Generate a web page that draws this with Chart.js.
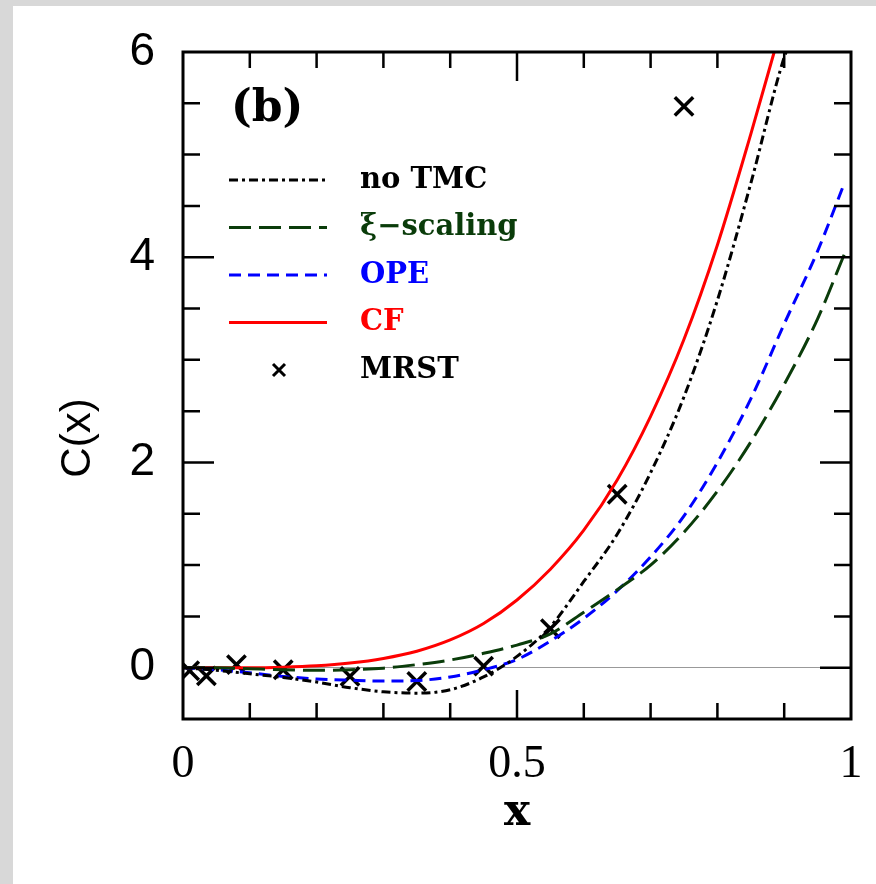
<!DOCTYPE html>
<html>
<head>
<meta charset="utf-8">
<script src="https://cdn.jsdelivr.net/npm/chart.js@4.4.0/dist/chart.umd.min.js"></script>
<style>
  html, body { margin: 0; padding: 0; background: #d8d8d8; overflow: hidden; }
  #panel { position: absolute; left: 13px; top: 6px; right: 0; bottom: 0; background: #fff; }
  canvas { position: absolute; left: 0; top: 0; }
</style>
</head>
<body>
<div id="panel"></div>
<canvas id="chart" width="876" height="884"></canvas>
<script>
// ---- data ----
const panelLabel = '(b)';
const yTitle = 'C(x)';
const xBase = [0, 0.05, 0.1, 0.15, 0.2, 0.25, 0.3, 0.35, 0.4, 0.45, 0.5, 0.55, 0.6, 0.65, 0.7, 0.75, 0.8, 0.85];

const noTmcX = xBase.concat([0.9, 0.903]);
const noTmcY = [0, -0.025, -0.06, -0.095, -0.14, -0.195, -0.235, -0.248, -0.215, -0.09, 0.11, 0.40, 0.84, 1.30, 1.90, 2.64, 3.58, 4.72, 5.95, 6.0];

const xiX = xBase.concat([0.9, 0.95, 0.99]);
const xiY = [0, 0, -0.01, -0.02, -0.025, -0.02, -0.005, 0.03, 0.075, 0.14, 0.22, 0.33, 0.54, 0.76, 1.0, 1.32, 1.72, 2.2, 2.76, 3.4, 4.03];

const opeX = xBase.concat([0.9, 0.95, 0.99]);
const opeY = [0, -0.02, -0.05, -0.085, -0.11, -0.122, -0.13, -0.125, -0.09, -0.02, 0.08, 0.26, 0.48, 0.75, 1.08, 1.48, 2.0, 2.62, 3.35, 4.06, 4.72];

const cfX = xBase.concat([0.885]);
const cfY = [0, 0, 0, 0.005, 0.018, 0.045, 0.09, 0.16, 0.27, 0.43, 0.66, 0.96, 1.34, 1.83, 2.45, 3.2, 4.12, 5.2, 6.0];

const mrstX = [0.01, 0.035, 0.08, 0.15, 0.25, 0.35, 0.45, 0.55, 0.65, 0.75];
const mrstY = [-0.03, -0.08, 0.03, -0.02, -0.085, -0.135, 0.015, 0.38, 1.69, 5.47];

const xTicks = [0, 0.5, 1];
const yTicks = [0, 2, 4, 6];
const xMinorTicks = [0.1, 0.2, 0.3, 0.4, 0.5, 0.6, 0.7, 0.8, 0.9];
const yMinorTicks = [0, 0.5, 1, 1.5, 2, 2.5, 3, 3.5, 4, 4.5, 5, 5.5];

const pts = (xs, ys) => xs.map((x, i) => ({ x: x, y: ys[i] }));

// frame, inward ticks, y title, legend and panel label
const decorPlugin = {
  id: 'decor',
  afterDraw(chart) {
    const ctx = chart.ctx;
    const { left, right, top, bottom } = chart.chartArea;
    const xs = chart.scales.x, ys = chart.scales.y;
    ctx.save();
    ctx.strokeStyle = '#000';
    ctx.lineCap = 'butt';

    ctx.lineWidth = 2.5;
    yMinorTicks.forEach(v => {
      const py = ys.getPixelForValue(v);
      const len = yTicks.includes(v) ? 31 : 17;
      ctx.beginPath();
      ctx.moveTo(left, py); ctx.lineTo(left + len, py);
      ctx.moveTo(right, py); ctx.lineTo(right - len, py);
      ctx.stroke();
    });
    xMinorTicks.forEach(v => {
      const px = xs.getPixelForValue(v);
      const len = xTicks.includes(v) ? 29 : 16;
      ctx.beginPath();
      ctx.moveTo(px, bottom); ctx.lineTo(px, bottom - len);
      ctx.moveTo(px, top); ctx.lineTo(px, top + len);
      ctx.stroke();
    });

    ctx.lineWidth = 3;
    ctx.strokeRect(left, top, right - left, bottom - top);

    // y axis title (sits a bit below the axis middle in the original)
    ctx.fillStyle = '#000';
    ctx.save();
    ctx.translate(78, 438);
    ctx.rotate(-Math.PI / 2);
    ctx.textAlign = 'center';
    ctx.textBaseline = 'middle';
    ctx.font = '42px "Liberation Sans"';
    ctx.fillText(yTitle, 0, 0);
    ctx.restore();

    // panel label
    ctx.textAlign = 'left';
    ctx.textBaseline = 'middle';
    ctx.font = 'bold 44px "DejaVu Serif"';
    ctx.fillText(panelLabel, 231, 110);

    // legend
    ctx.font = 'bold 29px "DejaVu Serif"';
    chart.data.datasets.forEach((ds, i) => {
      const y = 180 + i * 47.5;
      ctx.strokeStyle = ds.borderColor;
      if (ds.showLine === false) {
        const r = 6;
        ctx.lineWidth = 3;
        ctx.setLineDash([]);
        ctx.beginPath();
        ctx.moveTo(279 - r, y - r); ctx.lineTo(279 + r, y + r);
        ctx.moveTo(279 - r, y + r); ctx.lineTo(279 + r, y - r);
        ctx.stroke();
      } else {
        ctx.lineWidth = ds.borderWidth;
        ctx.setLineDash(ds.borderDash || []);
        ctx.beginPath();
        ctx.moveTo(229, y); ctx.lineTo(327, y);
        ctx.stroke();
      }
      ctx.setLineDash([]);
      ctx.fillStyle = ds.borderColor;
      ctx.fillText(ds.label, 360, y);
    });
    ctx.restore();
  }
};

const ctx = document.getElementById('chart').getContext('2d');
const chart = new Chart(ctx, {
  type: 'scatter',
  data: {
    datasets: [
      { label: 'no TMC', data: pts(noTmcX, noTmcY), showLine: true, borderColor: '#000000',
        borderWidth: 3, borderDash: [9, 4, 3, 4], pointRadius: 0, cubicInterpolationMode: 'monotone' },
      { label: '\u03BE\u2212scaling', data: pts(xiX, xiY), showLine: true, borderColor: '#0a3c0a',
        borderWidth: 3, borderDash: [22, 8], pointRadius: 0, cubicInterpolationMode: 'monotone' },
      { label: 'OPE', data: pts(opeX, opeY), showLine: true, borderColor: '#0000ff',
        borderWidth: 3, borderDash: [12, 7], pointRadius: 0, cubicInterpolationMode: 'monotone' },
      { label: 'CF', data: pts(cfX, cfY), showLine: true, borderColor: '#ff0000',
        borderWidth: 3, pointRadius: 0, cubicInterpolationMode: 'monotone' },
      { label: 'MRST', data: pts(mrstX, mrstY), showLine: false, borderColor: '#000000',
        backgroundColor: '#000000', pointStyle: 'crossRot', pointRadius: 13, pointBorderWidth: 3.5 }
    ]
  },
  options: {
    responsive: false,
    animation: false,
    events: [],
    layout: { padding: { left: 0, top: 52, right: 25, bottom: 0 } },
    plugins: { legend: { display: false }, tooltip: { enabled: false } },
    scales: {
      x: {
        type: 'linear', min: 0, max: 1,
        afterFit: (scale) => { scale.height = 165; scale.paddingLeft = 0; scale.paddingRight = 0; },
        afterBuildTicks: (scale) => { scale.ticks = xTicks.map(v => ({ value: v })); },
        grid: { display: false, drawTicks: false },
        border: { display: false },
        ticks: { color: '#000', padding: 18, font: { family: '"Liberation Serif"', size: 46 },
                 callback: (v) => String(v), maxRotation: 0 },
        title: { display: true, text: 'x', color: '#000', padding: { top: 0, bottom: 44 },
                 font: { family: '"DejaVu Serif"', size: 44, weight: 'bold' } }
      },
      y: {
        type: 'linear', min: -0.5, max: 6,
        afterFit: (scale) => { scale.width = 183; scale.paddingTop = 0; scale.paddingBottom = 0; },
        afterBuildTicks: (scale) => { scale.ticks = yTicks.map(v => ({ value: v })); },
        grid: { drawTicks: false, lineWidth: 1,
                color: (c) => (c.tick && c.tick.value === 0) ? '#999999' : 'rgba(0,0,0,0)' },
        border: { display: false },
        ticks: { color: '#000', padding: 28, font: { family: '"Liberation Sans"', size: 46 },
                 callback: (v) => String(v) },
        title: { display: false }
      }
    }
  },
  plugins: [decorPlugin]
});
</script>
</body>
</html>
